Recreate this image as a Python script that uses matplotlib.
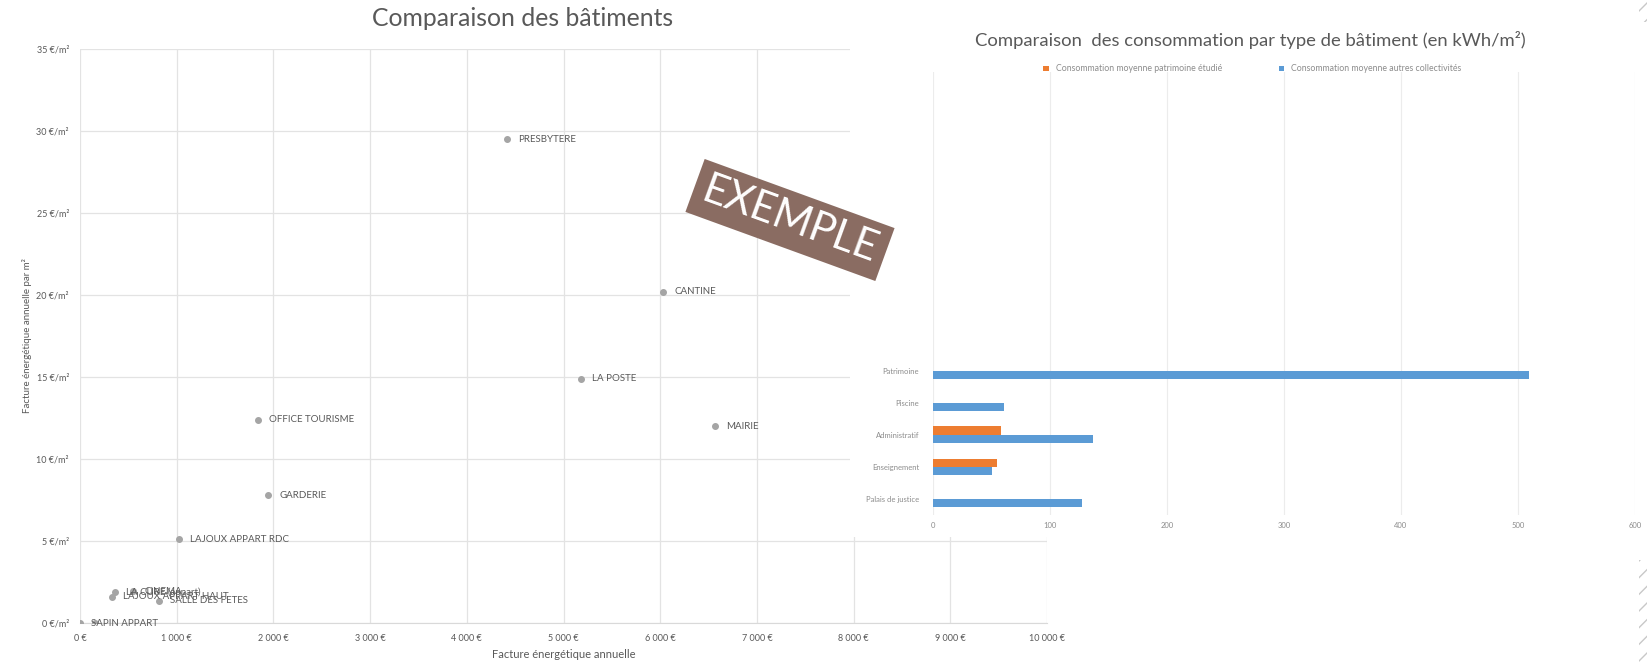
import numpy as np
import matplotlib.pyplot as plt
from matplotlib.ticker import FuncFormatter, MultipleLocator
from matplotlib.patches import Rectangle

plt.rcParams['font.family'] = ['Lato', 'DejaVu Sans']

# Facture annuelle (EUR) et facture par m2 de chaque batiment
batiments = ["PRESBYTERE", "CANTINE", "LA POSTE", "MAIRIE", "OFFICE TOURISME",
             "GARDERIE", "LAJOUX APPART RDC", "LAJOUX APPART HAUT", "LA CURE (appart)",
             "CINEMA", "SALLE DES FETES", "SAPIN APPART", ""]
facture = [4415, 6030, 5180, 6570, 1840, 1945, 1025, 330, 360, 550, 820, 0, 150]
facture_m2 = [29.5, 20.2, 14.9, 12.0, 12.4, 7.8, 5.1, 1.6, 1.9, 1.95, 1.35, 0.0, 0.0]

# Consommation par type de batiment (kWh/m2)
types = ["Palais de justice", "Enseignement", "Administratif", "Piscine", "Patrimoine"]
conso_patrimoine = [0, 55, 58, 0, 0]
conso_autres = [127, 50, 137, 61, 509]

W, H = 1647, 668
fig = plt.figure(figsize=(W / 100, H / 100), dpi=100)
fig.patch.set_facecolor("white")

grid_col = "#e3e3e3"
txt_col = "#595959"

# ---- nuage de points
ax = fig.add_axes([80 / W, 1 - 623 / H, (1047 - 80) / W, (623 - 49) / H])
ax.scatter(facture, facture_m2, s=16, color="#a5a5a5", zorder=3)
for name, x, y in zip(batiments, facture, facture_m2):
    if name:
        ax.annotate(name, (x, y), xytext=(8, 0), textcoords="offset points",
                    va="center", ha="left", fontsize=7, color=txt_col)
ax.set_xlim(0, 10000)
ax.set_ylim(0, 35)
ax.xaxis.set_major_locator(MultipleLocator(1000))
ax.yaxis.set_major_locator(MultipleLocator(5))
ax.xaxis.set_major_formatter(FuncFormatter(lambda v, p: f"{int(v):,} €".replace(",", " ")))
ax.yaxis.set_major_formatter(FuncFormatter(lambda v, p: f"{int(v)} €/m²"))
ax.grid(True, color=grid_col, linewidth=0.9)
ax.set_axisbelow(True)
for s in ["top", "right", "left"]:
    ax.spines[s].set_visible(False)
ax.spines["bottom"].set_color("#d9d9d9")
ax.tick_params(length=0, labelsize=6.5, labelcolor=txt_col, pad=8)
ax.set_xlabel("Facture énergétique annuelle", fontsize=8, color=txt_col, labelpad=4)
ax.set_ylabel("Facture énergétique annuelle par m²", fontsize=7, color=txt_col, labelpad=3)
fig.text(523 / W, 1 - 18 / H, "Comparaison des bâtiments", ha="center", va="center",
         fontsize=17.8, color=txt_col)

# ---- encart : consommation par type de batiment
fig.patches.append(Rectangle((850 / W, 1 - 537 / H), (W - 850) / W, (537 - 20) / H,
                             transform=fig.transFigure, facecolor="white",
                             edgecolor="none", zorder=5))

ax2 = fig.add_axes([933 / W, 1 - 515 / H, (1635 - 933) / W, (515 - 72) / H], zorder=6)
ax2.patch.set_alpha(0)
pos = np.arange(len(types))
ax2.barh(pos + 0.13, conso_patrimoine, height=0.26, color="#ed7d31",
         label="Consommation moyenne patrimoine étudié")
ax2.barh(pos - 0.13, conso_autres, height=0.26, color="#5b9bd5",
         label="Consommation moyenne autres collectivités")
ax2.set_xlim(0, 600)
ax2.set_ylim(-0.5, 13.3)
ax2.set_yticks(pos)
ax2.set_yticklabels(types)
ax2.xaxis.set_major_locator(MultipleLocator(100))
ax2.grid(True, axis="x", color="#ececec", linewidth=0.8)
ax2.set_axisbelow(True)
for s in ax2.spines.values():
    s.set_visible(False)
ax2.tick_params(length=0, labelsize=5.5, labelcolor="#8c8c8c", pad=10)
ax2.tick_params(axis="x", pad=5)
leg = ax2.legend(loc="upper center", bbox_to_anchor=(0.455, 1.035), ncol=2, frameon=False,
                 fontsize=6.3, handlelength=0.6, handleheight=0.6, columnspacing=6.5,
                 labelcolor="#8c8c8c")
fig.text(1250 / W, 1 - 40 / H,
         "Comparaison  des consommation par type de bâtiment (en kWh/m²)",
         ha="center", va="center", fontsize=13.3, color=txt_col, zorder=7)

# bordure hachuree a droite
for y0, y1 in [(0, 22), (560, 668)]:
    fig.patches.append(Rectangle((1639 / W, 1 - y1 / H), 8 / W, (y1 - y0) / H,
                                 transform=fig.transFigure, facecolor="none",
                                 edgecolor="#c8c8c8", hatch="//", linewidth=0, zorder=8))

# ---- tampon
fig.text(790 / W, 1 - 220 / H, "EXEMPLE", rotation=-20, ha="center", va="center",
         fontsize=30, color="white", zorder=10, rotation_mode="anchor",
         bbox=dict(boxstyle="square,pad=0.22", facecolor="#8a6c62", edgecolor="none"))

fig.savefig("out.png", dpi=100, facecolor="white")
